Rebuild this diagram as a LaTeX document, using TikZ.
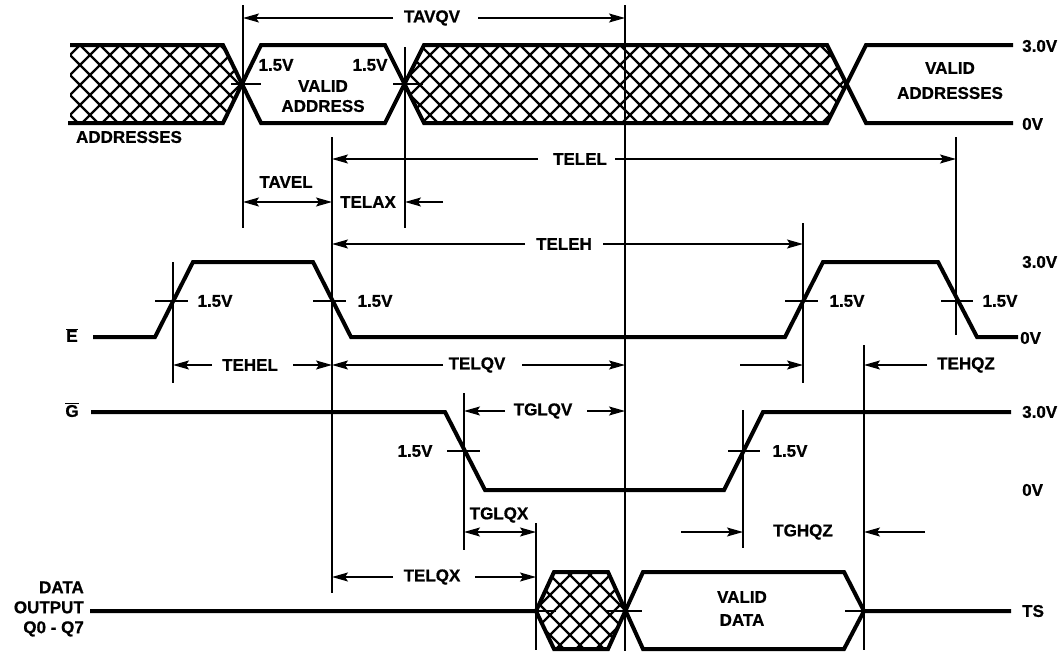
\documentclass[tikz,border=0pt]{standalone}
\usepackage{fontspec}
\setmainfont{Liberation Sans}[BoldFeatures={FakeBold=0.8}]
\usetikzlibrary{arrows.meta}
\newcommand\ovlbar[1]{\ensuremath{\overline{\mbox{#1}}}}
\begin{document}
\begin{tikzpicture}[x=1pt,y=-1pt,
  sig/.style={line width=4pt, line join=miter},
  vline/.style={line width=1.3pt},
  dim/.style={line width=1.3pt, -{Stealth[length=16pt,width=9pt,inset=3pt]}},
  ddim/.style={line width=1.3pt, {Stealth[length=16pt,width=9pt,inset=3pt]}-{Stealth[length=16pt,width=9pt,inset=3pt]}},
  lbl/.style={font=\fontsize{17}{21}\selectfont\bfseries, inner sep=0pt},
  hatchln/.style={line width=2.4pt}]
\useasboundingbox (0,0) rectangle (1064,653);

% ---------- hatched regions ----------
\begin{scope}
  \clip (70,45)--(223,45)--(242,84)--(223,123)--(70,123)--cycle;
  \foreach \a in {-300,-280,...,1300}{\draw[hatchln] (\a,5)--++(700,700); \draw[hatchln] (\a,5)--++(-700,700);}
\end{scope}
\begin{scope}
  \clip (405,84)--(424,45)--(827,45)--(846.5,84)--(827,123)--(424,123)--cycle;
  \foreach \a in {-300,-280,...,1600}{\draw[hatchln] (\a,5)--++(700,700); \draw[hatchln] (\a,5)--++(-700,700);}
\end{scope}
\begin{scope}
  \clip (536,611)--(554,572)--(608,572)--(625,611)--(608,649)--(554,649)--cycle;
  \foreach \a in {-300,-280,...,1800}{\draw[hatchln] (\a,5)--++(700,700); \draw[hatchln] (\a,5)--++(-700,700);}
\end{scope}

% ---------- signal traces ----------
\draw[sig] (70,45)--(223,45)--(261,123)--(385,123)--(424,45)--(827,45)--(866,123)--(1013,123);
\draw[sig] (68,123)--(223,123)--(261,45)--(385,45)--(424,123)--(827,123)--(866,45)--(1013,45);
\draw[sig] (93,337)--(155,337)--(193,262)--(313,262)--(351,337)--(785,337)--(823,262)--(938,262)--(977,337)--(1018,337);
\draw[sig] (91,412)--(445,412)--(485,490)--(724,490)--(763,412)--(1011,412);
\draw[sig] (90,611)--(536,611)--(554,572)--(608,572)--(643,649)--(844,649)--(864,611)--(1011,611);
\draw[sig] (536,611)--(554,649)--(608,649)--(643,572)--(844,572)--(864,611);

% ---------- vertical reference lines ----------
\coordinate (vA1) at (243,5);   \coordinate (vA2) at (243,228);
\coordinate (vB1) at (405,47);  \coordinate (vB2) at (405,228);
\coordinate (vC1) at (332,137); \coordinate (vC2) at (332,593);
\coordinate (vD1) at (625,5);   \coordinate (vD2) at (625,651);
\coordinate (vE1) at (956,137); \coordinate (vE2) at (956,335);
\coordinate (vF1) at (173,262); \coordinate (vF2) at (173,383);
\coordinate (vG1) at (803,223); \coordinate (vG2) at (803,383);
\coordinate (vH1) at (864,345); \coordinate (vH2) at (864,650);
\coordinate (vI1) at (464,393); \coordinate (vI2) at (464,550);
\coordinate (vJ1) at (743,410); \coordinate (vJ2) at (743,548);
\coordinate (vK1) at (536,523); \coordinate (vK2) at (536,650);
\foreach \v in {A,B,C,D,E,F,G,H,I,J,K}{\draw[vline] (v\v1)--(v\v2);}

% ---------- 1.5V ticks ----------
\draw[vline] (231,84)--(261,84);  \draw[vline] (393,84)--(423,84);
\draw[vline] (155,301)--(188,301); \draw[vline] (313,301)--(346,301);
\draw[vline] (785,301)--(818,301); \draw[vline] (941,301)--(973,301);
\draw[vline] (447,451)--(480,451); \draw[vline] (728,451)--(760,451);
\draw[vline] (536,611)--(556,611); \draw[vline] (607,611)--(642,611); \draw[vline] (845,611)--(864,611);

% ---------- labels ----------
\node[lbl] (l15a) at (276,65) {1.5V};
\node[lbl] (l15b) at (370,65) {1.5V};
\node[lbl] (va1) at (323,86) {VALID};
\node[lbl] (va2) at (323,106) {ADDRESS};
\node[lbl] (addr) at (129,137) {ADDRESSES};
\node[lbl] (vas1) at (950,68) {VALID};
\node[lbl] (vas2) at (950,93) {ADDRESSES};
\node[lbl,anchor=west] (a30) at (1022,46) {3.0V};
\node[lbl,anchor=west] (a0) at (1022,124) {0V};
\node[lbl,anchor=west] (e30) at (1022,262) {3.0V};
\node[lbl,anchor=west] (e0) at (1020,338) {0V};
\node[lbl,anchor=west] (g30) at (1022,412) {3.0V};
\node[lbl,anchor=west] (g0) at (1022,490) {0V};
\node[lbl,anchor=west] (ts) at (1022,611) {TS};
\node[lbl] (ebar) at (72,335) {\ovlbar{E}};
\node[lbl] (gbar) at (72,410) {\ovlbar{G}};
\node[lbl] (e15a) at (215,301) {1.5V};
\node[lbl] (e15b) at (375,301) {1.5V};
\node[lbl] (e15c) at (847,301) {1.5V};
\node[lbl] (e15d) at (1000,301) {1.5V};
\node[lbl] (g15a) at (415,451) {1.5V};
\node[lbl] (g15b) at (790,451) {1.5V};
\node[lbl,anchor=east,align=right] (dout) at (84,609) {DATA\\[-1pt]OUTPUT\\[-1pt]Q0 - Q7};
\node[lbl] (vd1) at (742,597) {VALID};
\node[lbl] (vd2) at (742,620) {DATA};

% ---------- timing dimensions ----------
\node[lbl] (tavqv) at (432,18) {TAVQV};
\draw[dim] (393,18)--(243,18);
\draw[dim] (478,18)--(625,18);

\node[lbl] (telel) at (580,159) {TELEL};
\draw[dim] (538,159)--(332,159);
\draw[dim] (615,159)--(956,159);

\node[lbl] (tavel) at (286,182) {TAVEL};
\draw[ddim] (243,202)--(332,202);
\node[lbl] (telax) at (368,202) {TELAX};
\draw[dim] (443,202)--(405,202);

\node[lbl] (teleh) at (564,244) {TELEH};
\draw[dim] (525,244)--(332,244);
\draw[dim] (603,244)--(803,244);

\node[lbl] (tehel) at (250,365) {TEHEL};
\draw[dim] (212,365)--(173,365);
\draw[dim] (293,365)--(332,365);

\node[lbl] (telqv) at (477,365) {TELQV};
\draw[dim] (443,365)--(332,365);
\draw[dim] (522,365)--(625,365);
\draw[dim] (740,365)--(803,365);

\node[lbl] (tehqz) at (966,365) {TEHQZ};
\draw[dim] (927,365)--(864,365);

\node[lbl] (tglqv) at (543,411) {TGLQV};
\draw[dim] (505,411)--(464,411);
\draw[dim] (587,411)--(625,411);

\node[lbl] (tglqx) at (499,515) {TGLQX};
\draw[ddim] (464,532)--(536,532);

\node[lbl] (tghqz) at (803,532) {TGHQZ};
\draw[dim] (681,532)--(743,532);
\draw[dim] (925,532)--(864,532);

\node[lbl] (telqx) at (432,577) {TELQX};
\draw[dim] (393,577)--(332,577);
\draw[dim] (475,577)--(536,577);
\end{tikzpicture}
\end{document}
